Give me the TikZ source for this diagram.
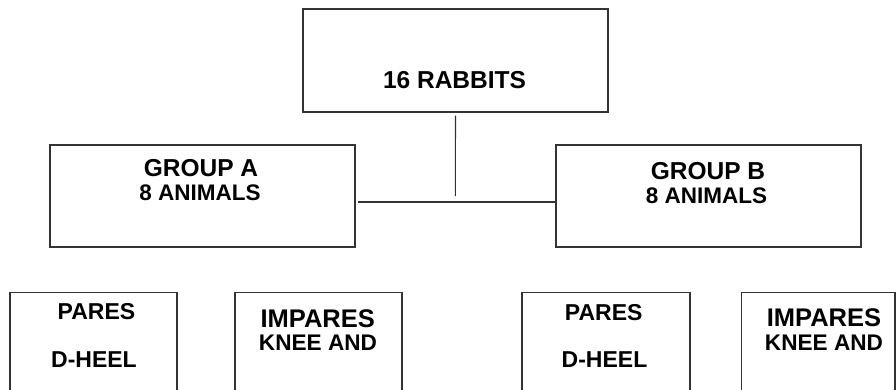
\documentclass[tikz,border=0pt]{standalone}
\usepackage{fontspec}
\setmainfont{Liberation Sans}
\tikzset{
  box/.style={draw=black!80, line width=1.2pt, inner sep=0pt, fill=none},
  conn/.style={draw=black!80, line width=1.1pt},
  lbl/.style={inner sep=0pt, anchor=base, font=\bfseries\fontsize{#1}{#1}\selectfont},
}
\begin{document}
\begin{tikzpicture}[x=1pt,y=-1pt]
\useasboundingbox (0,0) rectangle (896,389);
\clip (0,0) rectangle (896,389);
% boxes
\node[box, minimum width=305pt, minimum height=103pt] (top) at (455.5,60.5) {};
\node[box, minimum width=305pt, minimum height=102pt] (ga) at (202.5,196) {};
\node[box, minimum width=305pt, minimum height=102pt] (gb) at (708.5,196) {};
\node[box, minimum width=167pt, minimum height=120pt] (b1) at (93.5,352.5) {};
\node[box, minimum width=167pt, minimum height=120pt] (b2) at (318.5,352.5) {};
\node[box, minimum width=168pt, minimum height=120pt] (b3) at (605.9,352.5) {};
\node[box, minimum width=153.5pt, minimum height=120pt] (b4) at (818.3,352.5) {};
% texts
\node[lbl=24.5] (ttop) at (454.5,88) {16 RABBITS};
\node[lbl=24.5] (ta1) at (201,176) {GROUP A};
\node[lbl=22.5] (ta2) at (200,200) {8 ANIMALS};
\node[lbl=24.5] (tb1) at (708,179) {GROUP B};
\node[lbl=22.5] (tb2) at (706.5,203.5) {8 ANIMALS};
\node[lbl=23] (t11) at (96.5,319) {PARES};
\node[lbl=23] (t12) at (94,367) {D-HEEL};
\node[lbl=25.5] (t21) at (317.7,327.5) {IMPARES};
\node[lbl=22.6] (t22) at (318,350.5) {KNEE AND};
\node[lbl=23] (t31) at (603.7,320) {PARES};
\node[lbl=23] (t32) at (604.5,367) {D-HEEL};
\node[lbl=25.5] (t41) at (824,326.5) {IMPARES};
\node[lbl=22.6] (t42) at (824,350.5) {KNEE AND};
% connectors
\coordinate (vend) at (455.3,196);
\coordinate (hstart) at (358,202);
\draw[conn] ([yshift=-3pt]top.south) -- (vend);
\draw[conn] (hstart) -- (gb.west |- hstart);
\end{tikzpicture}
\end{document}
